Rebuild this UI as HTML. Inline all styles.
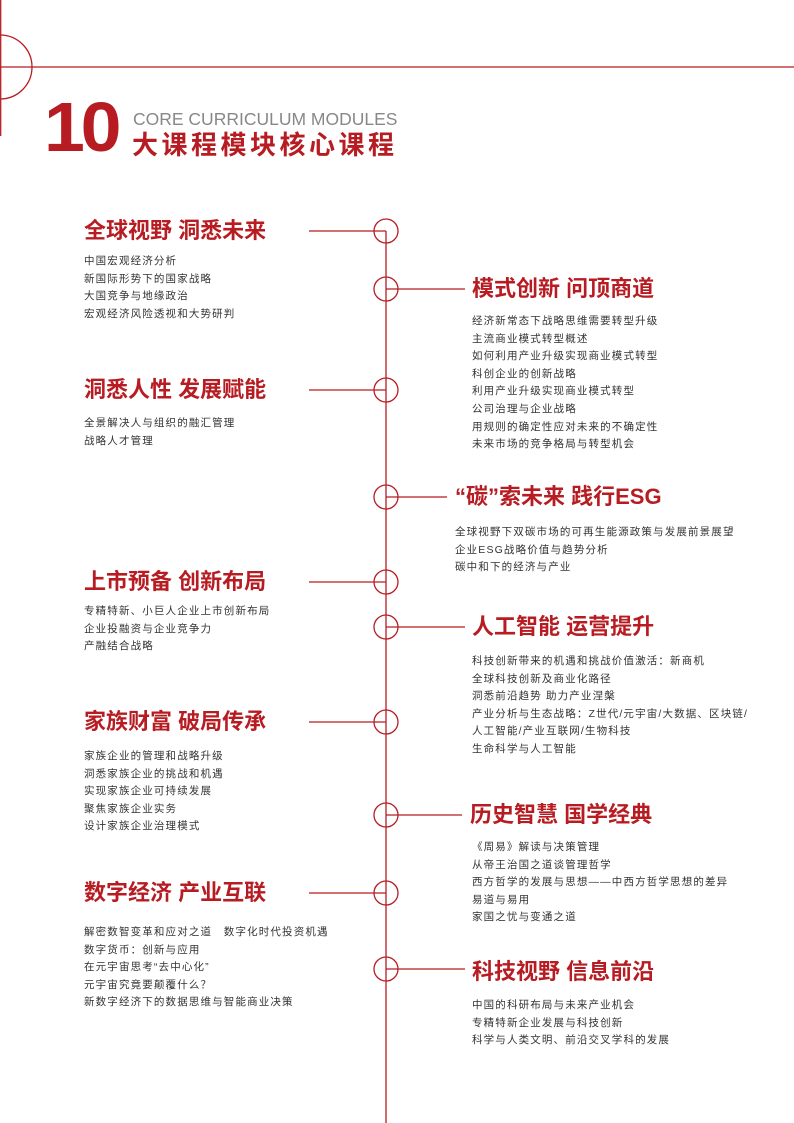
<!DOCTYPE html>
<html><head><meta charset="utf-8"><style>
body{margin:0;width:794px;height:1123px;position:relative;background:#fff;overflow:hidden;font-family:"Liberation Sans","Noto Sans CJK SC",sans-serif}
.t{position:absolute;color:#b71c22;font-weight:bold;font-size:22px;letter-spacing:0px;line-height:24px;white-space:nowrap}
.b{position:absolute;color:#333;font-size:10.5px;letter-spacing:1.15px;line-height:17.6px;white-space:nowrap}
</style></head><body>
<svg width="794" height="1123" style="position:absolute;left:0;top:0" fill="none" stroke="#b71c22" stroke-width="1.3">
<line x1="0.7" y1="0" x2="0.7" y2="136"/>
<circle cx="0" cy="67" r="32"/>
<line x1="0" y1="67" x2="794" y2="67"/>
<line x1="386" y1="231" x2="386" y2="1123"/>
<g>
<circle cx="386" cy="231" r="12"/><line x1="309" y1="231" x2="386" y2="231"/>
<circle cx="386" cy="289" r="12"/><line x1="386" y1="289" x2="465" y2="289"/>
<circle cx="386" cy="390" r="12"/><line x1="309" y1="390" x2="386" y2="390"/>
<circle cx="386" cy="497" r="12"/><line x1="386" y1="497" x2="447" y2="497"/>
<circle cx="386" cy="582" r="12"/><line x1="309" y1="582" x2="386" y2="582"/>
<circle cx="386" cy="627" r="12"/><line x1="386" y1="627" x2="465" y2="627"/>
<circle cx="386" cy="722" r="12"/><line x1="309" y1="722" x2="386" y2="722"/>
<circle cx="386" cy="815" r="12"/><line x1="386" y1="815" x2="462" y2="815"/>
<circle cx="386" cy="893" r="12"/><line x1="309" y1="893" x2="386" y2="893"/>
<circle cx="386" cy="969" r="12"/><line x1="386" y1="969" x2="465" y2="969"/>
</g>
</svg>
<div style="position:absolute;left:44px;top:92px;font-size:70px;font-weight:900;color:#b71c22;letter-spacing:-4px;line-height:70px;font-family:'Liberation Sans',sans-serif;transform:scaleX(1.05);transform-origin:left">10</div>
<div style="position:absolute;left:133px;top:108px;font-size:17.5px;color:#888;line-height:22px;white-space:nowrap">CORE CURRICULUM MODULES</div>
<div style="position:absolute;left:132px;top:130px;font-size:26px;font-weight:bold;color:#b71c22;letter-spacing:3.5px;line-height:30px;white-space:nowrap">大课程模块核心课程</div>

<div class="t" style="left:84px;top:219px">全球视野 洞悉未来</div>
<div class="b" style="left:84px;top:253px">中国宏观经济分析<br>新国际形势下的国家战略<br>大国竞争与地缘政治<br>宏观经济风险透视和大势研判</div>

<div class="t" style="left:472px;top:277px">模式创新 问顶商道</div>
<div class="b" style="left:472px;top:313px">经济新常态下战略思维需要转型升级<br>主流商业模式转型概述<br>如何利用产业升级实现商业模式转型<br>科创企业的创新战略<br>利用产业升级实现商业模式转型<br>公司治理与企业战略<br>用规则的确定性应对未来的不确定性<br>未来市场的竞争格局与转型机会</div>

<div class="t" style="left:84px;top:378px">洞悉人性 发展赋能</div>
<div class="b" style="left:84px;top:415px">全景解决人与组织的融汇管理<br>战略人才管理</div>

<div class="t" style="left:455px;top:485px">“碳”索未来 践行ESG</div>
<div class="b" style="left:455px;top:524px">全球视野下双碳市场的可再生能源政策与发展前景展望<br>企业ESG战略价值与趋势分析<br>碳中和下的经济与产业</div>

<div class="t" style="left:84px;top:570px">上市预备 创新布局</div>
<div class="b" style="left:84px;top:603px">专精特新、小巨人企业上市创新布局<br>企业投融资与企业竞争力<br>产融结合战略</div>

<div class="t" style="left:472px;top:615px">人工智能 运营提升</div>
<div class="b" style="left:472px;top:653px">科技创新带来的机遇和挑战价值激活：新商机<br>全球科技创新及商业化路径<br>洞悉前沿趋势 助力产业涅槃<br>产业分析与生态战略：Z世代/元宇宙/大数据、区块链/<br>人工智能/产业互联网/生物科技<br>生命科学与人工智能</div>

<div class="t" style="left:84px;top:710px">家族财富 破局传承</div>
<div class="b" style="left:84px;top:748px">家族企业的管理和战略升级<br>洞悉家族企业的挑战和机遇<br>实现家族企业可持续发展<br>聚焦家族企业实务<br>设计家族企业治理模式</div>

<div class="t" style="left:470px;top:803px">历史智慧 国学经典</div>
<div class="b" style="left:472px;top:839px">《周易》解读与决策管理<br>从帝王治国之道谈管理哲学<br>西方哲学的发展与思想——中西方哲学思想的差异<br>易道与易用<br>家国之忧与变通之道</div>

<div class="t" style="left:84px;top:881px">数字经济 产业互联</div>
<div class="b" style="left:84px;top:924px">解密数智变革和应对之道　数字化时代投资机遇<br>数字货币：创新与应用<br>在元宇宙思考“去中心化”<br>元宇宙究竟要颠覆什么？<br>新数字经济下的数据思维与智能商业决策</div>

<div class="t" style="left:472px;top:960px">科技视野 信息前沿</div>
<div class="b" style="left:472px;top:997px">中国的科研布局与未来产业机会<br>专精特新企业发展与科技创新<br>科学与人类文明、前沿交叉学科的发展</div>
</body></html>
